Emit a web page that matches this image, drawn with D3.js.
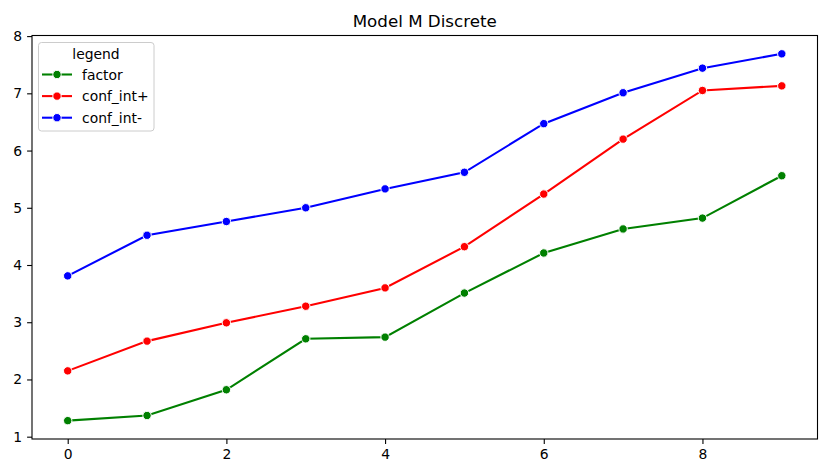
<!DOCTYPE html>
<html><head><meta charset="utf-8">
<script src="https://cdn.jsdelivr.net/npm/d3@7"></script>
<style>body{margin:0;background:#fff}svg{display:block}text{font-family:"DejaVu Sans",sans-serif}</style>
</head><body><svg id="c" width="830" height="470"></svg>
<script>
const xs = [0,1,2,3,4,5,6,7,8,9];
const factor = [1.28,1.37,1.82,2.71,2.74,3.51,4.21,4.63,4.82,5.56];
const confPlus = [2.15,2.67,2.99,3.28,3.60,4.32,5.24,6.20,7.05,7.13];
const confMinus = [3.81,4.52,4.76,5.00,5.33,5.62,6.47,7.01,7.44,7.69];
const seriesNames = ["factor","conf_int+","conf_int-"];
const seriesColors = ["#008000","#ff0000","#0000ff"];
const xTicks = [0,2,4,6,8];
const yTicks = [1,2,3,4,5,6,7,8];
const title = "Model M Discrete";
const legendTitle = "legend";

const series = [factor, confPlus, confMinus];
const svg = d3.select("#c");
const L=32, R=817.5, T=35.5, B=439;
const allY = series.flat();
const ymin = d3.min(allY), ymax = d3.max(allY), yr = ymax-ymin;
const x = d3.scaleLinear().domain([-0.45, 9.45]).range([L,R]);
const y = d3.scaleLinear().domain([ymin-0.05*yr, ymax+0.05*yr]).range([B,T]);

const fs = "13.9px";
const gx = svg.append("g").attr("transform",`translate(0,${B})`)
  .call(d3.axisBottom(x).tickValues(xTicks).tickFormat(d3.format("d")).tickSize(4.9).tickPadding(4.9));
const gy = svg.append("g").attr("transform",`translate(${L},0)`)
  .call(d3.axisLeft(y).tickValues(yTicks).tickFormat(d3.format("d")).tickSize(4.9).tickPadding(4.9));
[gx,gy].forEach(g=>{
  g.select(".domain").remove();
  g.selectAll("line").attr("stroke","#000").attr("stroke-width",1.1);
  g.selectAll("text").attr("font-size",fs).attr("fill","#000").attr("font-family","DejaVu Sans");
});

// lines
const line = d3.line().x((d,i)=>x(xs[i])).y(d=>y(d));
series.forEach((s,k)=>{
  svg.append("path").datum(s).attr("d",line).attr("fill","none")
    .attr("stroke",seriesColors[k]).attr("stroke-width",2.08);
  svg.append("g").selectAll("circle").data(s).join("circle")
    .attr("cx",(d,i)=>x(xs[i])).attr("cy",d=>y(d)).attr("r",4.2)
    .attr("fill",seriesColors[k]).attr("stroke","#fff").attr("stroke-width",1);
});

// frame
svg.append("rect").attr("x",L).attr("y",T).attr("width",R-L).attr("height",B-T)
  .attr("fill","none").attr("stroke","#000").attr("stroke-width",1.1);

// title
svg.append("text").attr("x",(L+R)/2).attr("y",T-9).attr("text-anchor","middle")
  .attr("font-size","16.7px").attr("fill","#000").text(title);

// legend
const lg = svg.append("g");
lg.append("rect").attr("x",38.5).attr("y",42.5).attr("width",115.5).attr("height",88.5)
  .attr("rx",3).attr("fill","#fff").attr("fill-opacity",0.8).attr("stroke","#ccc").attr("stroke-width",1);
lg.append("text").attr("x",96).attr("y",59).attr("text-anchor","middle").attr("font-size",fs).attr("fill","#000").text(legendTitle);
seriesNames.forEach((n,k)=>{
  const yy = 74.5 + k*21.6;
  lg.append("line").attr("x1",42).attr("x2",72).attr("y1",yy).attr("y2",yy)
    .attr("stroke",seriesColors[k]).attr("stroke-width",2.08);
  lg.append("circle").attr("cx",57).attr("cy",yy).attr("r",4.2).attr("fill",seriesColors[k]).attr("stroke","#fff").attr("stroke-width",1);
  lg.append("text").attr("x",82).attr("y",yy+5).attr("font-size",fs).attr("fill","#000").text(n);
});
</script></body></html>
